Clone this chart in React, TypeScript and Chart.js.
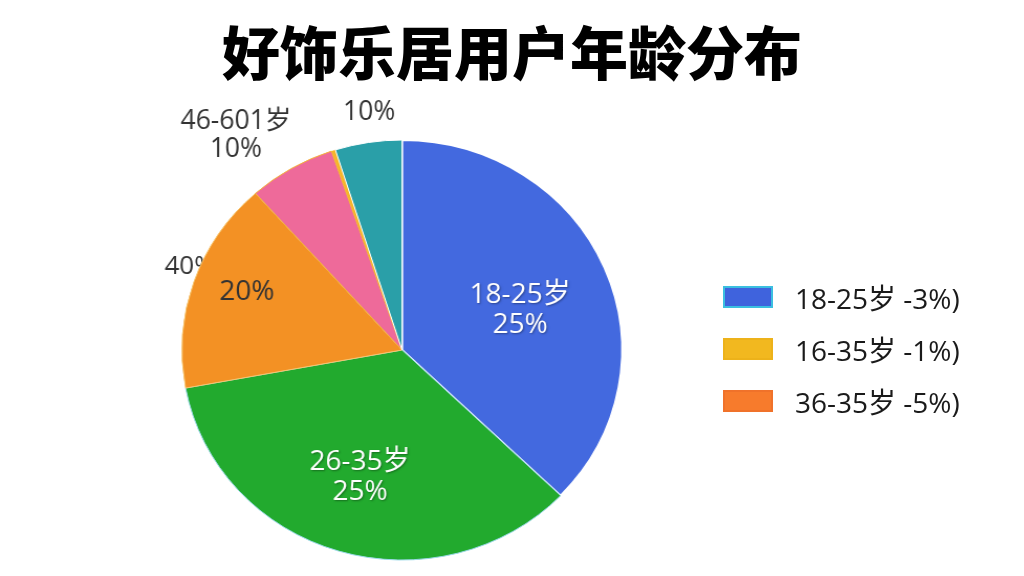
import React, { useEffect, useRef } from "react";
import { Chart, registerables } from "chart.js";

Chart.register(...registerables);

// ---- data ----
const categories = ["18-25岁", "26-35岁", "36-45岁", "46-60岁", "60岁以上", "其他"];
const shares = [37.2, 34.9, 16.3, 6.4, 0.3, 4.9];
const sliceColors = ["#4369DF", "#22AA2E", "#F39124", "#EE6A9A", "#F6B52A", "#2A9FA8"];
const sliceLabels: string[][] = [
  ["18-25岁", "25%"],
  ["26-35岁", "25%"],
  ["20%"],
  ["46-601岁", "10%"],
  [],
  ["10%"],
];
const legendTexts = ["18-25岁 -3%)", "16-35岁 -1%)", "36-35岁 -5%)"];
const legendColors = ["#3F63DD", "#F2B81F", "#F77B2C"];
const legendBorders = ["#3BBFE0", "#EDB21A", "#F0722A"];
const titleText = "好饰乐居用户年龄分布";
const hiddenLabel = "40%";

// ---- layout / styling ----
const SX = 1.048; // the reference pie is slightly wider than tall
const CANVAS_W = Math.round(1024 / SX);
const labelStyle = [
  { f: 0.569, dA: 3.5, color: "#ffffff", size: 28, shadow: true },
  { f: 0.634, dA: 0.8, color: "#ffffff", size: 28, shadow: true },
  { f: 0.757, dA: 2.5, color: "#333333", size: 28, shadow: false },
  { f: 1.271, dA: -6.2, color: "#333333", size: 26.5, shadow: false },
  { f: 1, dA: 0, color: "#333333", size: 26, shadow: false },
  { f: 1.143, dA: 1.3, color: "#333333", size: 26.5, shadow: false },
];
const hiddenStyle = { f: 1.041, dA: 3.4, color: "#333333", size: 26, shadow: false };
const FONT = '"Open Sans", "Noto Sans CJK SC", sans-serif';

function drawLabel(ctx: CanvasRenderingContext2D, arc: any, lines: string[], st: any) {
  const mid = (arc.startAngle + arc.endAngle) / 2 + (st.dA * Math.PI) / 180;
  const r = arc.outerRadius * st.f;
  const cx = arc.x + Math.cos(mid) * r;
  const cy = arc.y + Math.sin(mid) * r;
  const lh = st.size * 1.05;
  ctx.save();
  ctx.translate(cx, cy);
  ctx.scale(1 / SX, 1);
  ctx.font = `${st.size}px ${FONT}`;
  ctx.fillStyle = st.color;
  ctx.textAlign = "center";
  ctx.textBaseline = "middle";
  if (st.shadow) {
    ctx.shadowColor = "rgba(0,0,0,0.35)";
    ctx.shadowBlur = 2;
    ctx.shadowOffsetX = 1;
    ctx.shadowOffsetY = 1;
  }
  lines.forEach((t, i) => {
    ctx.fillText(t, 0, (i - (lines.length - 1) / 2) * lh);
  });
  ctx.restore();
}

const labelPlugin = {
  id: "sliceLabels",
  beforeDatasetsDraw(chart: any) {
    const arcs = chart.getDatasetMeta(0).data;
    if (arcs[2]) drawLabel(chart.ctx, arcs[2], [hiddenLabel], hiddenStyle);
  },
  afterDatasetsDraw(chart: any) {
    const arcs = chart.getDatasetMeta(0).data;
    arcs.forEach((arc: any, i: number) => {
      if (sliceLabels[i] && sliceLabels[i].length) drawLabel(chart.ctx, arc, sliceLabels[i], labelStyle[i]);
    });
  },
};

export default function App() {
  const ref = useRef<HTMLCanvasElement | null>(null);

  useEffect(() => {
    document.body.style.margin = "0";
    const canvas = ref.current;
    if (!canvas) return;
    const chart = new Chart(canvas, {
      type: "pie",
      data: {
        labels: categories,
        datasets: [
          {
            data: shares,
            backgroundColor: sliceColors,
            borderColor: ["#ffffff", "#9AD8E8", "#F7C46A", "#F2B53A", "#F2B53A", "#ffffff"],
            borderWidth: [2, 1, 1, 1, 0, 1],
          },
        ],
      },
      options: {
        responsive: false,
        animation: false,
        devicePixelRatio: 1,
        layout: { padding: { left: 172.6, right: CANVAS_W - 594.6, top: 139, bottom: 15 } },
        plugins: {
          legend: { display: false },
          title: { display: false },
          tooltip: { enabled: false },
        },
      },
      plugins: [labelPlugin],
    });
    return () => chart.destroy();
  }, []);

  return (
    <div style={{ position: "relative", width: 1024, height: 576, background: "#ffffff", overflow: "hidden" }}>
      <canvas
        ref={ref}
        width={CANVAS_W}
        height={576}
        style={{ position: "absolute", left: 0, top: 0, width: 1024, height: 576 }}
      />
      <div
        style={{
          position: "absolute",
          left: 0,
          top: 21,
          width: 1024,
          textAlign: "center",
          fontFamily: '"Noto Sans CJK SC", sans-serif',
          fontWeight: 900,
          fontSize: 58,
          lineHeight: "58px",
          color: "#000000",
        }}
      >
        {titleText}
      </div>
      {legendTexts.map((t, i) => (
        <div
          key={i}
          style={{
            position: "absolute",
            left: 723,
            top: 282 + i * 52,
            height: 30,
            display: "flex",
            alignItems: "center",
            fontFamily: FONT,
            fontSize: 28,
            color: "#1a1a1a",
            whiteSpace: "nowrap",
          }}
        >
          <span
            style={{
              display: "inline-block",
              width: 46,
              height: 18,
              background: legendColors[i],
              border: `2px solid ${legendBorders[i]}`,
              marginRight: 22,
            }}
          />
          <span>{t}</span>
        </div>
      ))}
    </div>
  );
}
